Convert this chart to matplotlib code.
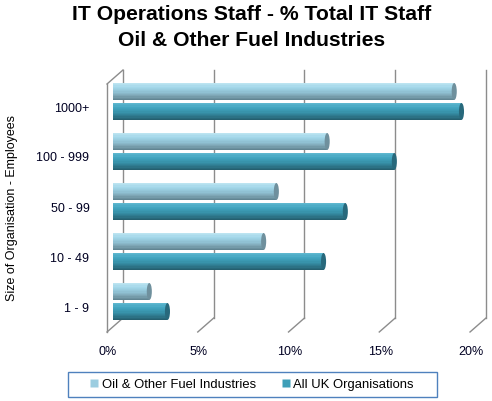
import numpy as np
import matplotlib
matplotlib.use('Agg')
import matplotlib.pyplot as plt
from matplotlib.lines import Line2D
from matplotlib.patches import Ellipse, Rectangle
from matplotlib.transforms import ScaledTranslation

plt.rcParams['font.family'] = ['Liberation Sans', 'DejaVu Sans']

categories = ['1 - 9', '10 - 49', '50 - 99', '100 - 999', '1000+']
oil_values = [2.0, 8.3, 9.0, 11.8, 18.8]
uk_values = [3.0, 11.6, 12.8, 15.5, 19.2]
series_names = ['Oil & Other Fuel Industries', 'All UK Organisations']
x_ticks = [0, 5, 10, 15, 20]
x_labels = ['0%', '5%', '10%', '15%', '20%']

W, H = 492, 401
fig = plt.figure(figsize=(W / 100, H / 100), dpi=100)
ax = fig.add_axes([113 / W, 1 - 328 / H, 363 / W, 248 / H])
ax.set_xlim(0, 20)
ax.set_ylim(-0.53, 4.43)
for s in ax.spines.values():
    s.set_visible(False)

# pseudo-3D walls: back plane offset and front plane offset (in data units)
back_dx, back_dy = 0.55, 0.2
front_dx, front_dy = -0.33, -0.08
y0, y1 = ax.get_ylim()
grid_kw = dict(color='#8c8c8c', lw=1.0, clip_on=False, zorder=1)
for t in x_ticks:
    ax.plot([t + back_dx, t + back_dx], [y0 + back_dy, y1 + back_dy], **grid_kw)
    ax.plot([t + front_dx, t + back_dx], [y0 + front_dy, y0 + back_dy], **grid_kw)
ax.plot([front_dx, front_dx], [y0 + front_dy, y1 + front_dy], **grid_kw)
ax.plot([front_dx, back_dx], [y1 + front_dy, y1 + back_dy], **grid_kw)


def shade(stops, n):
    pos = np.linspace(0, 1, len(stops))
    rgb = np.array([matplotlib.colors.to_rgb(c) for c in stops])
    fr = (np.arange(n) + 0.5) / n
    return [tuple(np.interp(f, pos, rgb[:, k]) for k in range(3)) for f in fr]


oil_stops = ['#c0e6f2', '#a3d7e9', '#93c6d8', '#7ea6b5', '#5c7f8c']
uk_stops = ['#62bad1', '#44a6c1', '#3a97b0', '#2f7b90', '#235a6a']
oil_cap = '#6f909d'
uk_cap = '#28697c'

y = np.arange(len(categories))
bar_h = 0.34
n_strips = 14
for vals, off, stops, cap in [(oil_values, 0.2, oil_stops, oil_cap),
                              (uk_values, -0.2, uk_stops, uk_cap)]:
    cols = shade(stops, n_strips)
    sh = bar_h / n_strips
    for i, c in enumerate(cols):
        yc = y + off + bar_h / 2 - sh * (i + 0.5)
        ax.barh(yc, vals, height=sh * 1.05, color=c, linewidth=0, zorder=3)
    for v, yy in zip(vals, y + off):
        ax.add_patch(Ellipse((v, yy), width=0.28, height=bar_h, facecolor=cap,
                             edgecolor='none', zorder=4))
        ax.add_patch(Ellipse((0, yy), width=0.28, height=bar_h,
                             facecolor=shade(stops, 3)[1], edgecolor='none', zorder=2))

ax.set_xticks(x_ticks)
ax.set_xticklabels(x_labels)
ax.set_yticks(y)
ax.set_yticklabels(categories)
ax.tick_params(axis='both', length=0, labelsize=9, colors='#000022')
ax.tick_params(axis='x', pad=13)
ax.tick_params(axis='y', pad=17)
for lab in ax.get_xticklabels():
    lab.set_transform(lab.get_transform() + ScaledTranslation(-0.05, 0, fig.dpi_scale_trans))
for lab in ax.get_yticklabels():
    lab.set_transform(lab.get_transform() + ScaledTranslation(0, -0.055, fig.dpi_scale_trans))

fig.text(12 / W, 1 - 208 / H, 'Size of Organisation - Employees', rotation=90,
         ha='center', va='center', fontsize=9)
fig.text(252 / W, 1 - 14 / H, 'IT Operations Staff - % Total IT Staff',
         ha='center', va='center', fontsize=15.2, weight='bold')
fig.text(252 / W, 1 - 41 / H, 'Oil & Other Fuel Industries',
         ha='center', va='center', fontsize=15.2, weight='bold')

handles = [Line2D([], [], marker='s', ls='none', markersize=5.5,
                  markerfacecolor=c, markeredgecolor='none')
           for c in ['#9ccde0', '#3f9fb8']]
fig.legend(handles, series_names, ncol=2, loc='center',
           bbox_to_anchor=(252 / W, 1 - 384.5 / H), fontsize=9.4,
           frameon=False, handlelength=0.6, handletextpad=0.25,
           columnspacing=2.0)
fig.add_artist(Rectangle((68 / W, 1 - 397 / H), 369 / W, 25 / H,
                         transform=fig.transFigure, facecolor='none',
                         edgecolor='#4f81bd', lw=1.0))

fig.savefig('out.png', dpi=100)
